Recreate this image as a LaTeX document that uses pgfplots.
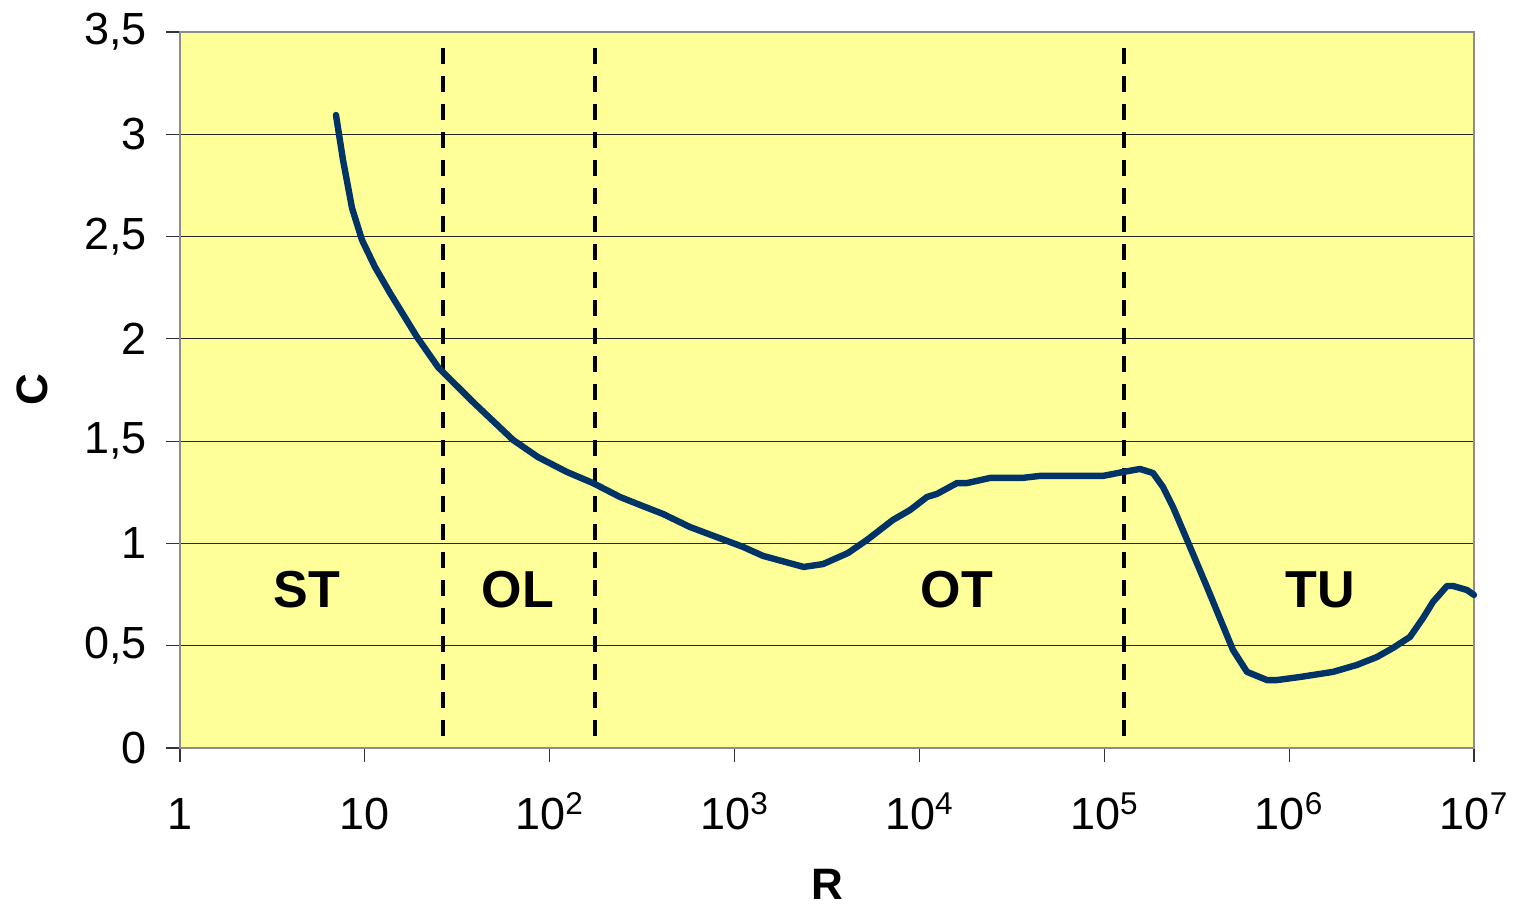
\documentclass[border=0pt]{standalone}
\usepackage{pgfplots}
\pgfplotsset{compat=1.18}
\usepackage{fontspec}
\setmainfont{Liberation Sans}
\definecolor{bgyellow}{RGB}{255,255,153}
\definecolor{curve}{RGB}{0,51,102}
\definecolor{frame}{RGB}{140,140,140}
\begin{document}
\begin{tikzpicture}
\begin{axis}[
  name=ax,
  scale only axis,
  width=647pt, height=358pt,
  xmode=log,
  xmin=1, xmax=1e7,
  ymin=0, ymax=3.5,
  axis background/.style={fill=bgyellow},
  axis line style={frame, line width=1.3pt},
  xtick={1,10,100,1000,10000,100000,1000000,10000000},
  xticklabels={1,10,10\textsuperscript{2},10\textsuperscript{3},10\textsuperscript{4},10\textsuperscript{5},10\textsuperscript{6},10\textsuperscript{7}},
  ytick={0,0.5,1,1.5,2,2.5,3,3.5},
  yticklabels={0,{0,5},1,{1,5},2,{2,5},3,{3,5}},
  xminorticks=false,
  tick align=outside,
  xtick pos=bottom, ytick pos=left,
  major tick length=7pt,
  tick style={black!80, line width=0.6pt},
  ymajorgrids,
  grid style={black!85, line width=0.6pt},
  /pgf/number format/assume math mode=true,
  ticklabel style={font=\fontsize{22.5}{26}\selectfont},
  xticklabel style={anchor=base, yshift=-34pt},
  yticklabel style={anchor=east, xshift=-6pt},
  xlabel={\textbf{R}},
  ylabel={\textbf{C}},
  xlabel style={font=\fontsize{22}{26}\selectfont, at={(axis description cs:0.5,-0.191)}, anchor=center},
  ylabel style={font=\fontsize{22}{26}\selectfont, at={(axis description cs:-0.114,0.5)}, anchor=center, rotate=0},
  clip=false,
]
\addplot[black, line width=1.8pt, dash pattern=on 8pt off 6pt] coordinates {(26.5,3.42) (26.5,0.05)};
\addplot[black, line width=1.8pt, dash pattern=on 8pt off 6pt] coordinates {(176,3.42) (176,0.05)};
\addplot[black, line width=1.8pt, dash pattern=on 8pt off 6pt] coordinates {(128000,3.42) (128000,0.05)};
\addplot[curve, line width=3.2pt, line join=round, line cap=round] coordinates {
(6.98,3.094) (7.62,2.874) (8.52,2.640) (9.65,2.483) (11.35,2.351) (13.68,2.224)
(19.15,2.009) (24.87,1.862) (38.5,1.691) (63.3,1.506) (86.4,1.422) (124,1.349)
(171.5,1.295) (240,1.227) (308,1.188) (410,1.144) (574,1.080) (1111,0.983)
(1425,0.939) (2364,0.885) (3009,0.899) (4108,0.953) (5204,1.017) (7194,1.115)
(8892,1.163) (10990,1.227) (12450,1.242) (15970,1.295) (18090,1.295) (24080,1.320)
(35880,1.320) (44890,1.330) (98400,1.330) (126300,1.349) (156100,1.364) (183400,1.344)
(207800,1.276) (235400,1.178) (290900,0.983) (359400,0.787) (496800,0.479) (591600,0.372)
(759000,0.332) (859800,0.332) (1145000,0.347) (1727000,0.372) (2329000,0.406) (2988000,0.445)
(3647000,0.489) (4506000,0.543) (5298000,0.635) (6000000,0.714) (7145000,0.792) (7700000,0.792)
(9170000,0.772) (10000000,0.748)
};
\node[font=\fontsize{26}{30}\selectfont\bfseries] at (axis cs:4.86,0.772) {ST};
\node[font=\fontsize{26}{30}\selectfont\bfseries] at (axis cs:67.3,0.772) {OL};
\node[font=\fontsize{26}{30}\selectfont\bfseries] at (axis cs:15960,0.772) {OT};
\node[font=\fontsize{26}{30}\selectfont\bfseries] at (axis cs:1468000,0.772) {TU};
\end{axis}
\pgfresetboundingbox
\path ([shift={(-90pt,-81pt)}]ax.south west) rectangle ([shift={(20.5pt,16pt)}]ax.north east);
\end{tikzpicture}
\end{document}
